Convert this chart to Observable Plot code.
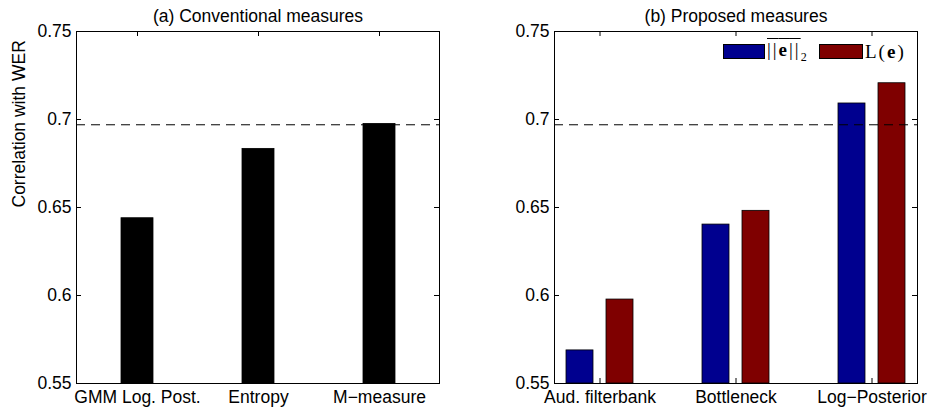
<!DOCTYPE html>
<html>
<head>
<meta charset="utf-8">
<script src="https://cdn.jsdelivr.net/npm/d3@7"></script>
<script src="https://cdn.jsdelivr.net/npm/@observablehq/plot@0.6"></script>
<style>
  html, body { margin: 0; padding: 0; background: #fff; }
  #wrap { position: relative; width: 929px; height: 413px; overflow: hidden; font-family: "Liberation Sans", Arial, sans-serif; }
  #left, #right { position: absolute; top: 0; }
  #left { left: 0; }
  #right { left: 464px; }
  #legend { position: absolute; left: 723px; top: 39px; display: flex; align-items: center; font-family: "Liberation Serif", "DejaVu Serif", serif; font-size: 19px; color: #000; }
  .sw { width: 42px; height: 15px; border: 1px solid #000; box-sizing: border-box; }
  .lab { white-space: nowrap; }
</style>
</head>
<body>
<div id="wrap">
  <div id="left"></div>
  <div id="right"></div>
  <div id="legend">
    <div class="sw" style="background:#00008f"></div>
    <span class="lab" style="width:52px; padding-left:2px;"><span style="text-decoration: overline; letter-spacing: 2px;">||<b>e</b>||</span><sub style="font-size:12px">2</sub></span>
    <div class="sw" style="background:#7f0000; width:44px"></div>
    <span class="lab" style="padding-left:2px; letter-spacing: 2px;">L(<b>e</b>)</span>
  </div>
</div>
<script>
// ---- data ----
const yTicks = [0.55, 0.6, 0.65, 0.7, 0.75];
const yDomain = [0.55, 0.75];
const baseline = [0.697];

const leftTitle = "(a) Conventional measures";
const leftCategories = ["GMM Log. Post.", "Entropy", "M\u2212measure"];
const leftValues = [0.6439, 0.6833, 0.6975];

const rightTitle = "(b) Proposed measures";
const rightCategories = ["Aud. filterbank", "Bottleneck", "Log\u2212Posterior"];
const normValues = [0.5688, 0.6403, 0.7091];
const likelihoodValues = [0.5977, 0.6481, 0.7206];

const FS = 17.5;
const BLUE = "#00008f", RED = "#7f0000";
const FRAME_W = 363, FRAME_H = 352, TICK = 5;

function frameAxes(categories) {
  return [
    Plot.ruleY(yTicks, {stroke: "black", strokeWidth: 1, insetRight: FRAME_W - TICK}),
    Plot.ruleY(yTicks, {stroke: "black", strokeWidth: 1, insetLeft: FRAME_W - TICK}),
    Plot.ruleX(categories, {stroke: "black", strokeWidth: 1, insetTop: FRAME_H - TICK}),
    Plot.ruleX(categories, {stroke: "black", strokeWidth: 1, insetBottom: FRAME_H - TICK}),
    Plot.frame({stroke: "black", strokeWidth: 1}),
    Plot.axisY(yTicks, {anchor: "left", tickSize: 0, tickPadding: 5, fontSize: FS, tickFormat: d => String(d)}),
    Plot.axisX(categories, {anchor: "bottom", tickSize: 0, tickPadding: 7, fontSize: FS})
  ];
}

const left = Plot.plot({
  width: 464, height: 413,
  marginLeft: 76, marginRight: 25, marginTop: 31, marginBottom: 30,
  style: {fontFamily: "Liberation Sans, Arial, sans-serif", fontSize: FS + "px", background: "white", overflow: "visible"},
  x: {type: "band", domain: leftCategories, paddingInner: 1 - 32 / 121, paddingOuter: (1 - 32 / 121) / 2, label: null, axis: null},
  y: {domain: yDomain, label: null, axis: null},
  marks: [
    Plot.barY(leftCategories.map((c, i) => ({c, v: leftValues[i]})), {x: "c", y1: () => yDomain[0], y2: "v", fill: "black", stroke: "black", strokeWidth: 0.8}),
    Plot.ruleY(baseline, {stroke: "black", strokeWidth: 1, strokeDasharray: "9,6"}),
    ...frameAxes(leftCategories),
    Plot.text([leftTitle], {frameAnchor: "top", dy: -22, fontSize: FS}),
    Plot.text(["Correlation with WER"], {frameAnchor: "left", dx: -57, rotate: -90, fontSize: FS})
  ]
});
document.getElementById("left").appendChild(left);

const rightData = rightCategories.map((c, i) => ({c, a: normValues[i], b: likelihoodValues[i]}));
const right = Plot.plot({
  width: 465, height: 413,
  marginLeft: 90, marginRight: 12, marginTop: 31, marginBottom: 30,
  style: {fontFamily: "Liberation Sans, Arial, sans-serif", fontSize: FS + "px", background: "white", overflow: "visible"},
  x: {type: "band", domain: rightCategories, paddingInner: 1 - 67 / 137, paddingOuter: 0.0803, label: null, axis: null},
  y: {domain: yDomain, label: null, axis: null},
  marks: [
    Plot.barY(rightData, {x: "c", y1: () => yDomain[0], y2: "a", fill: BLUE, stroke: "black", strokeWidth: 0.8, insetRight: 40}),
    Plot.barY(rightData, {x: "c", y1: () => yDomain[0], y2: "b", fill: RED, stroke: "black", strokeWidth: 0.8, insetLeft: 40}),
    Plot.ruleY(baseline, {stroke: "black", strokeWidth: 1, strokeDasharray: "9,6"}),
    ...frameAxes(rightCategories),
    Plot.text([rightTitle], {frameAnchor: "top", dy: -22, fontSize: FS})
  ]
});
document.getElementById("right").appendChild(right);
</script>
</body>
</html>
